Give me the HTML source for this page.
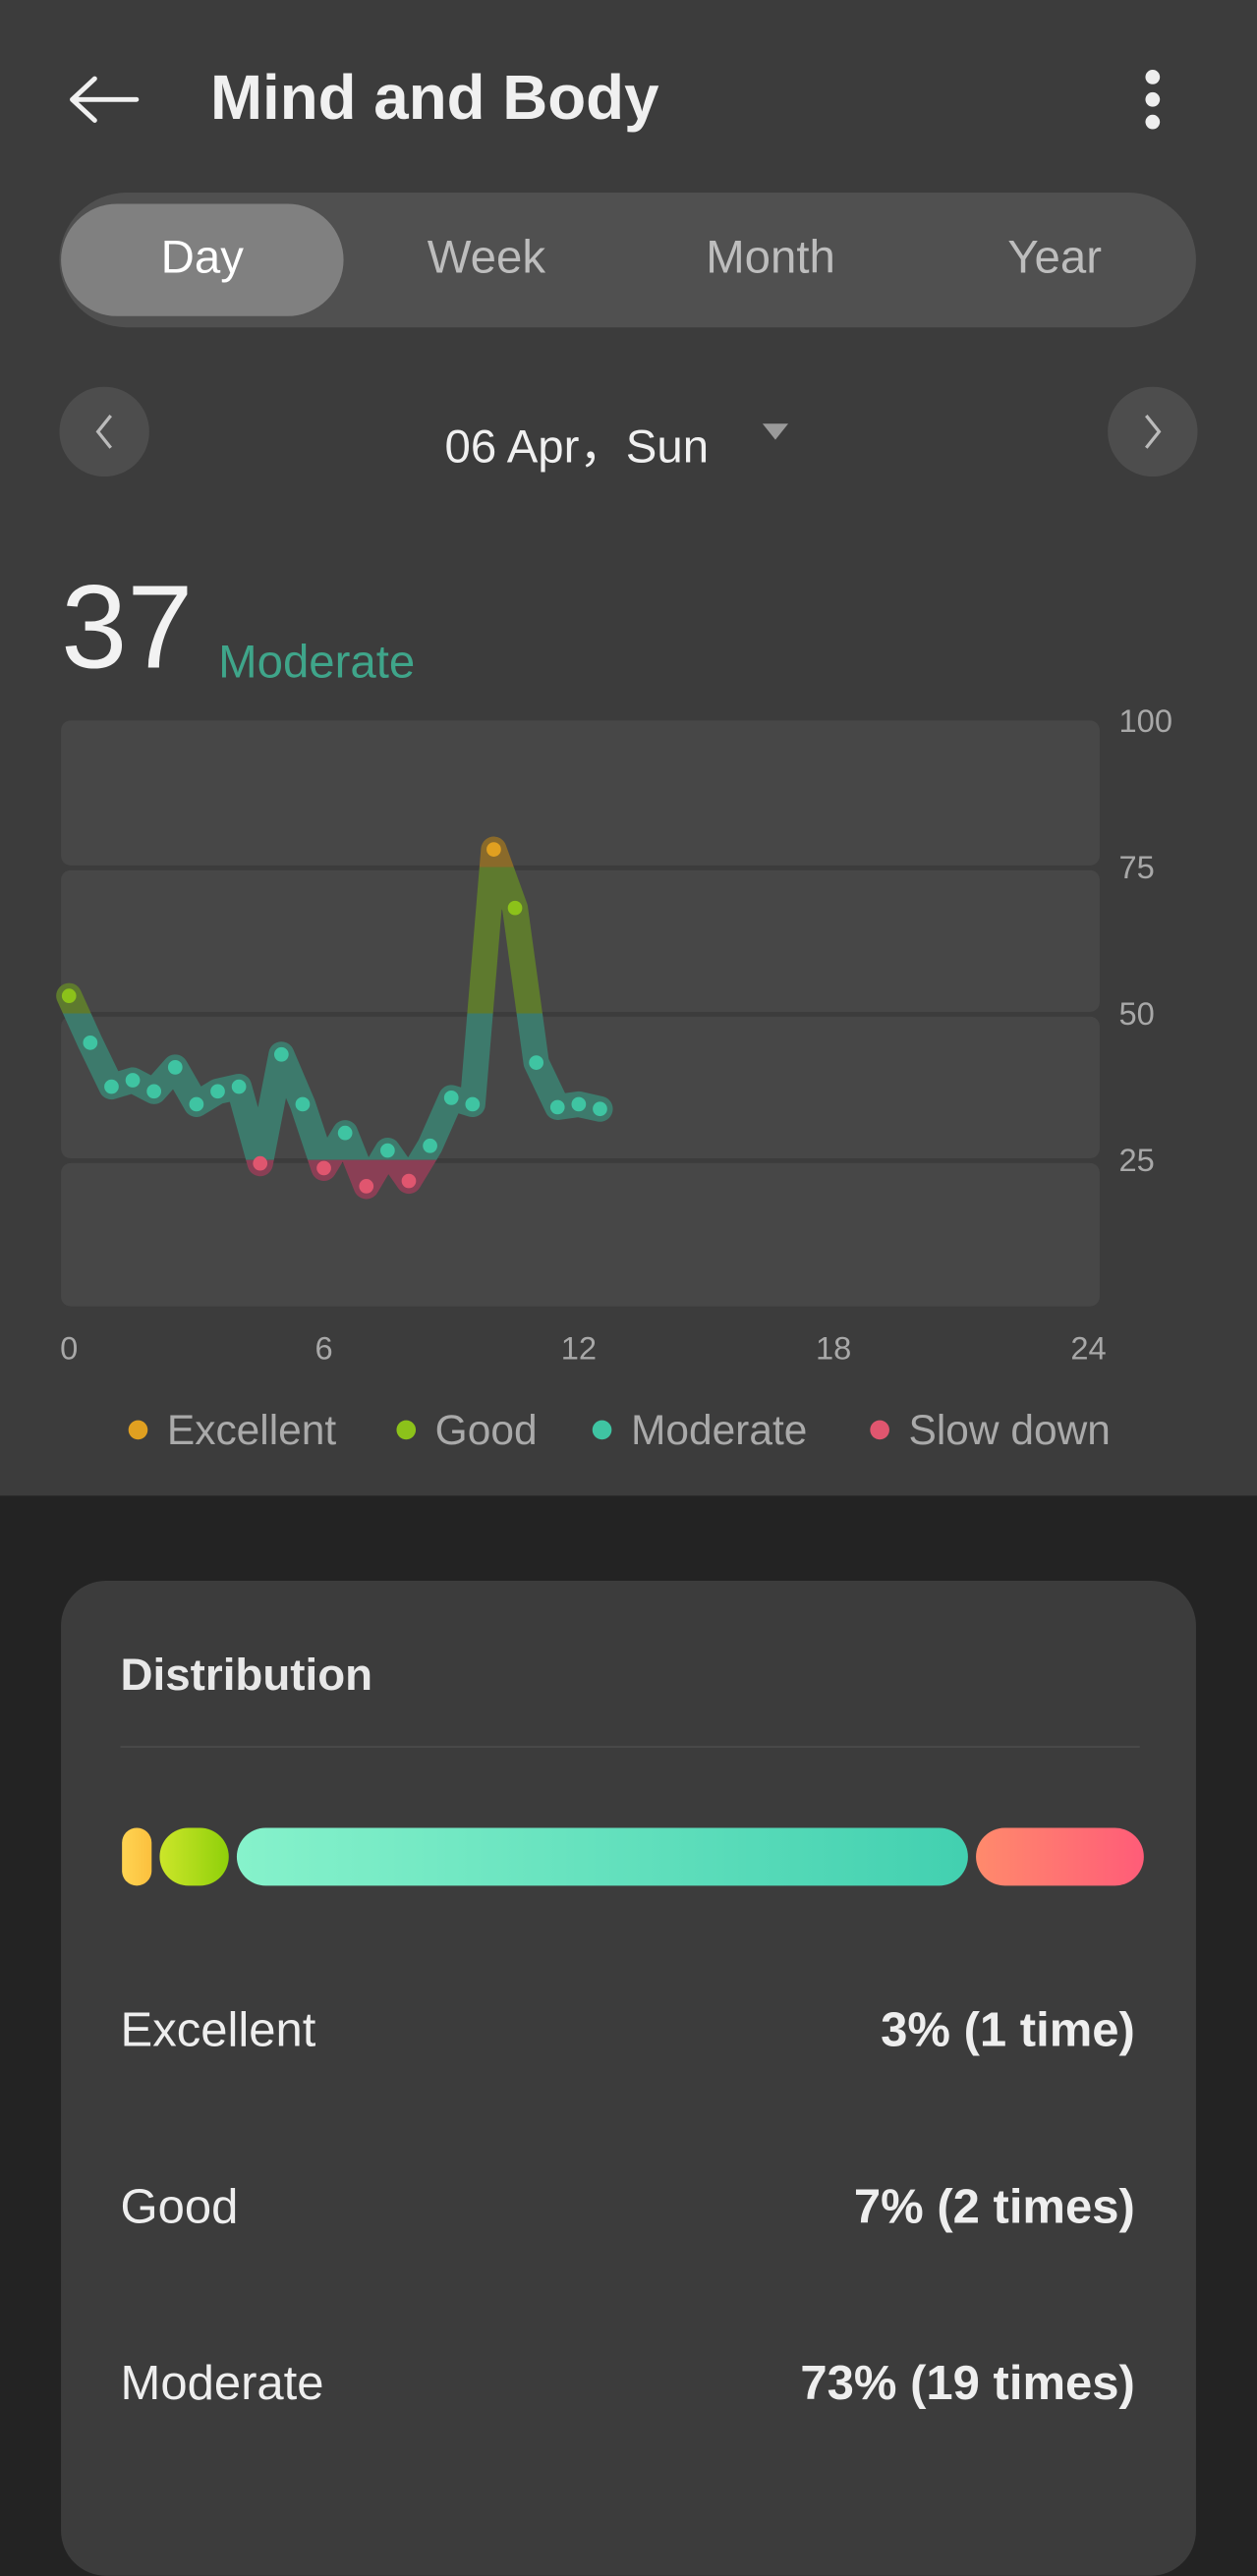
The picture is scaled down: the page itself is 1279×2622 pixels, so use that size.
<!DOCTYPE html>
<html><head><meta charset="utf-8"><style>
html,body{margin:0;padding:0;background:#232323;}
body{width:1279px;height:2560px;overflow:hidden;position:relative;font-family:"Liberation Sans",sans-serif;}
#w{position:absolute;left:0;top:0;width:783px;height:1568px;transform:scale(1.63346);transform-origin:0 0;}
.top{position:absolute;left:0;top:0;width:783px;height:932px;background:#3c3c3c;}
.a{position:absolute;white-space:nowrap;}
</style></head><body>
<div id="w">
<div class="top"></div>
<svg class="a" style="left:42px;top:46px" width="46" height="32"><path d="M3 16H43M3 16L17 3M3 16L17 29" stroke="#f0f0f0" stroke-width="3" fill="none" stroke-linecap="round"/></svg>
<div class="a" style="left:131px;top:40px;font-size:39px;font-weight:bold;color:#f0f0f0">Mind and Body</div>
<svg class="a" style="left:710px;top:42px" width="16" height="40"><circle cx="8" cy="6" r="4.5" fill="#eee"/><circle cx="8" cy="20" r="4.5" fill="#eee"/><circle cx="8" cy="34" r="4.5" fill="#eee"/></svg>
<div class="a" style="left:37px;top:120px;width:708px;height:84px;border-radius:42px;background:#505050"></div>
<div class="a" style="left:38px;top:127px;width:176px;height:70px;border-radius:35px;background:#808080"></div>
<div class="a" style="left:38px;top:145px;width:176px;text-align:center;font-size:29px;color:#fff">Day</div>
<div class="a" style="left:215px;top:145px;width:176px;text-align:center;font-size:29px;color:#bdbdbd">Week</div>
<div class="a" style="left:392px;top:145px;width:176px;text-align:center;font-size:29px;color:#bdbdbd">Month</div>
<div class="a" style="left:569px;top:145px;width:176px;text-align:center;font-size:29px;color:#bdbdbd">Year</div>
<svg class="a" style="left:37px;top:241px" width="56" height="56"><circle cx="28" cy="28" r="28" fill="#4d4d4d"/><path d="M32 18L24 28L32 38" stroke="#bbb" stroke-width="2" fill="none"/></svg>
<svg class="a" style="left:690px;top:241px" width="56" height="56"><circle cx="28" cy="28" r="28" fill="#4d4d4d"/><path d="M24 18L32 28L24 38" stroke="#bbb" stroke-width="2" fill="none"/></svg>
<div class="a" style="left:277px;top:255px;font-size:29px;color:#f0f0f0">06 Apr，Sun</div>
<svg class="a" style="left:474px;top:263px" width="18" height="12"><path d="M1 1H17L9 11Z" fill="#9a9a9a"/></svg>
<div class="a" style="left:38px;top:354px;font-size:74px;color:#f2f2f2;line-height:1">37</div>
<div class="a" style="left:136px;top:397px;font-size:29px;color:#3fa58a">Moderate</div>
<svg id="chart" class="a" style="left:0;top:430px" width="783" height="430"></svg>
<div id="legend"></div>

<div class="a" style="left:38px;top:985px;width:707px;height:620px;border-radius:28px;background:#3c3c3c"></div>
<div class="a" style="left:75px;top:1028px;font-size:28px;font-weight:bold;color:#e8e8e8">Distribution</div>
<div class="a" style="left:75px;top:1088px;width:635px;height:1px;background:#4c4c4c"></div>
<svg id="dist" class="a" style="left:0;top:1130px" width="783" height="60"></svg>
<div id="rows"></div>
</div>
<script>
const times=[0,0.5,1,1.5,2,2.5,3,3.5,4,4.5,5,5.5,6,6.5,7,7.5,8,8.5,9,9.5,10,10.5,11,11.5,12,12.5];
const scores=[53,45,37.5,38.6,36.7,40.8,34.5,36.7,37.5,24.4,43,34.5,23.6,29.6,20.5,26.6,21.4,27.4,35.6,34.5,78,68,41.6,34,34.5,33.7];
const yTicks=[100,75,50,25];
const xTicks=[0,6,12,18,24];
const levelNames=["Excellent","Good","Moderate","Slow down"];
const distPct=[3,7,73,17];
const distText=["3% (1 time)","7% (2 times)","73% (19 times)","17% (4 times)"];
const NS="http://www.w3.org/2000/svg";
const svg=document.getElementById('chart');
const OY=430;
function X(t){return 43+t*(678-43)/24;}
function Y(v){return 814-OY-v*(814-449)/100;}
function mk(tag,attrs,parent){const e=document.createElementNS(NS,tag);for(const k in attrs)e.setAttribute(k,attrs[k]);(parent||svg).appendChild(e);return e;}
const bands=[[100,75],[75,50],[50,25],[25,0]];
bands.forEach((b,i)=>{const r=mk('rect',{x:38,y:Y(b[0])+(i?2:0),width:647,height:Y(b[1])-Y(b[0])-(i?2:0)-(i<3?1:0),rx:6,fill:'#474747'});

});
yTicks.forEach(v=>{const t=mk('text',{x:697,y:Y(v)+7,fill:'#a8a8a8','font-size':20,'font-family':'Liberation Sans'});t.textContent=v;

});
xTicks.forEach(v=>{const t=mk('text',{x:X(v),y:839+8-OY,fill:'#a8a8a8','font-size':20,'text-anchor':'middle','font-family':'Liberation Sans'});t.textContent=v;

});
const lineCols=['#8a6a2a','#5e7a2e','#3d7a6c','#8a3f55'];
const dotCols=['#e0a020','#8cc21a','#3fc4a2','#e0566f'];
const defs=mk('defs',{});
const d=times.map((t,i)=>(i?'L':'M')+X(t)+' '+Y(scores[i])).join(' ');
bands.forEach((b,i)=>{const cp=mk('clipPath',{id:'cp'+i},defs);
const top=i?Y(b[0]):-50, bot=(i==3)?500:Y(b[1]);
mk('rect',{x:0,y:top,width:783,height:bot-top},cp);
const p=mk('path',{d:d,stroke:lineCols[i],'stroke-width':16,fill:'none','stroke-linejoin':'round','stroke-linecap':'round','clip-path':'url(#cp'+i+')'});

});
function lvl(v){return v>=75?0:v>=50?1:v>=25?2:3;}
times.forEach((t,i)=>{const c=mk('circle',{cx:X(t),cy:Y(scores[i]),r:4.5,fill:dotCols[lvl(scores[i])]});

});
const lg=document.getElementById('legend');const lx=[86,253,375,548];
levelNames.forEach((n,i)=>{const e=document.createElement('div');e.className='a';e.style.cssText=`left:${lx[i]-6}px;top:876px;font-size:26px;color:#aaa;`;
e.innerHTML=`<span style="display:inline-block;width:12px;height:12px;border-radius:6px;background:${dotCols[i]};margin-right:12px;vertical-align:3px"></span>${n}`;


lg.appendChild(e);});
const ds=document.getElementById('dist');
const grads=[['#ffd452','#fbc03e'],['#cce62a','#8fd00a'],['#86f2cb','#42d0b0'],['#ff8a6c','#ff5c78']];
const minW=[15,40,0,0];let x=76;const total=630-15;
grads.forEach((g,i)=>{const gr=mk('linearGradient',{id:'g'+i},ds);mk('stop',{offset:0,'stop-color':g[0]},gr);mk('stop',{offset:1,'stop-color':g[1]},gr);});
distPct.forEach((p,i)=>{let w=Math.max(minW[i],total*p/100);if(i==2)w=total*p/100-(15+40-total*0.10);
const r=mk('rect',{x:x,y:9,width:w,height:36,rx:Math.min(18,w/2),fill:'url(#g'+i+')'},ds);

x+=w+5;});
const rows=document.getElementById('rows');
[0,1,2].forEach(i=>{const y=1249+i*110;
const a=document.createElement('div');a.className='a';a.style.cssText=`left:75px;top:${y}px;font-size:30px;color:#eee`;a.textContent=levelNames[i];

rows.appendChild(a);
const b=document.createElement('div');b.className='a';b.style.cssText=`right:${783-707}px;top:${y}px;font-size:30px;color:#eee;font-weight:bold`;b.textContent=distText[i];

rows.appendChild(b);});
</script>
</body></html>
